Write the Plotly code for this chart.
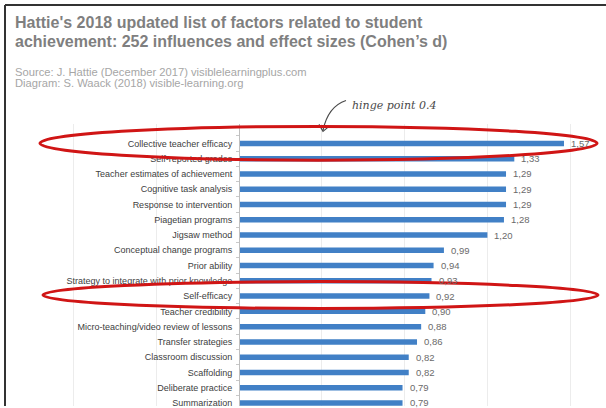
import plotly.graph_objects as go

W, H = 606, 408

factors = [
    "Collective teacher efficacy", "Self-reported grades", "Teacher estimates of achievement",
    "Cognitive task analysis", "Response to intervention", "Piagetian programs",
    "Jigsaw method", "Conceptual change programs", "Prior ability",
    "Strategy to integrate with prior knowledge", "Self-efficacy", "Teacher credibility",
    "Micro-teaching/video review of lessons", "Transfer strategies", "Classroom discussion",
    "Scaffolding", "Deliberate practice", "Summarization",
]
effect_sizes = [1.57, 1.33, 1.29, 1.29, 1.29, 1.28, 1.20, 0.99, 0.94,
                0.93, 0.92, 0.90, 0.88, 0.86, 0.82, 0.82, 0.79, 0.79]
value_labels = [f"{v:.2f}".replace(".", ",") for v in effect_sizes]

title_lines = [
    "Hattie's 2018 updated list of factors related to student",
    "achievement: 252 influences and effect sizes (Cohen\u2019s d)",
]
source_lines = [
    "Source: J. Hattie (December 2017) visiblelearningplus.com",
    "Diagram: S. Waack (2018) visible-learning.org",
]


def px(x):
    return x / W


def py(y):
    return 1 - y / H


# plot area geometry (pixels)
x_lo, x_hi = -0.9, 1.75
x_left = 239 + x_lo * 207
x_right = 239 + x_hi * 207
top_px = 125

fig = go.Figure(go.Bar(
    x=effect_sizes, y=factors, orientation="h",
    marker=dict(color="#4180c6", line=dict(width=0)),
    width=0.36, cliponaxis=False,
    hoverinfo="skip",
))

fig.update_layout(
    width=W, height=H, margin=dict(l=0, r=0, t=0, b=0),
    paper_bgcolor="white", plot_bgcolor="white", showlegend=False,
    xaxis=dict(domain=[px(x_left), px(x_right)], range=[x_lo, x_hi],
               dtick=0.4, tick0=0, showgrid=True, gridcolor="#ececec", gridwidth=1,
               zeroline=False, showticklabels=False, showline=False, ticks=""),
    yaxis=dict(domain=[0, py(top_px)], range=[17.2, -1.25], type="category",
               anchor="free", position=px(239), showline=True, linecolor="#bfbfbf",
               linewidth=1, ticks="outside", ticklen=3, tickcolor="#c9c9c9",
               tickson="boundaries", showgrid=False, ticklabelstandoff=5,
               tickfont=dict(family="Liberation Sans, Arial", size=9, color="#404040")),
)

annotations = []
# value labels next to bar ends
for f, v, lab in zip(factors, effect_sizes, value_labels):
    annotations.append(dict(text=lab, x=v, y=f, xref="x", yref="y", xanchor="left",
                            yanchor="middle", xshift=5, showarrow=False,
                            font=dict(family="Liberation Sans, Arial", size=9.5, color="#6a6a6a")))
for i, (line, yy) in enumerate(zip(title_lines, [23, 42])):
    annotations.append(dict(text=line, xref="paper", yref="paper", x=px(13), y=py(yy),
                            xanchor="left", yanchor="middle", showarrow=False,
                            font=dict(family="Liberation Sans, Arial",
                                      size=16, color="#7f7f7f", weight="bold")))
for line, yy in zip(source_lines, [72, 83]):
    annotations.append(dict(text=line, xref="paper", yref="paper", x=px(13), y=py(yy),
                            xanchor="left", yanchor="middle", showarrow=False,
                            font=dict(family="Liberation Sans, Arial",
                                      size=11.2, color="#a6a6a6")))
annotations.append(dict(text="<i>hinge point 0.4</i>", xref="paper", yref="paper",
                        x=px(350), y=py(106), xanchor="left", yanchor="middle", showarrow=False,
                        font=dict(family="DejaVu Serif", size=11, color="#4a4a4a")))
fig.update_layout(annotations=annotations)

shapes = []
# frame
shapes.append(dict(type="line", xref="paper", yref="paper", x0=px(5), x1=px(5), y0=py(5), y1=0,
                   line=dict(color="#333333", width=2)))
shapes.append(dict(type="line", xref="paper", yref="paper", x0=px(5), x1=1, y0=py(5), y1=py(5),
                   line=dict(color="#333333", width=2)))
# arrow from hinge text
shapes.append(dict(type="path", xref="paper", yref="paper",
                   path=f"M {px(346)} {py(101)} Q {px(328)} {py(107)} {px(323)} {py(131)}",
                   line=dict(color="#4a4a4a", width=1.2)))
shapes.append(dict(type="path", xref="paper", yref="paper",
                   path=f"M {px(319)} {py(125)} L {px(323)} {py(132)} L {px(329)} {py(127)}",
                   line=dict(color="#4a4a4a", width=1.2)))
# red ellipses
for (x0, x1, y0, y1) in [(40, 597, 127, 161), (43, 598, 283, 310)]:
    shapes.append(dict(type="circle", xref="paper", yref="paper",
                       x0=px(x0), x1=px(x1), y0=py(y1), y1=py(y0),
                       line=dict(color="#d01515", width=3)))
fig.update_layout(shapes=shapes)

fig.write_html("out.html")
